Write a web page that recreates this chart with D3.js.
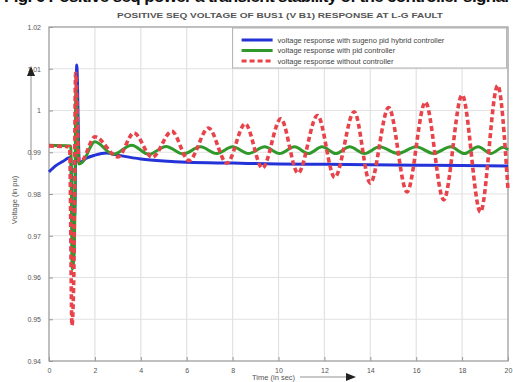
<!DOCTYPE html>
<html>
<head>
<meta charset="utf-8">
<script src="https://cdn.jsdelivr.net/npm/d3@7"></script>
<style>
  body { margin: 0; background: #fff; }
  text { font-family: "Liberation Sans", Arial, sans-serif; }
</style>
</head>
<body>
<div id="chart"></div>
<script>
var svgWidth = 513;
var svgHeight = 382;

var margin = { top: 27, right: 5, bottom: 21, left: 49 };
var width = svgWidth - margin.left - margin.right;
var height = svgHeight - margin.top - margin.bottom;

// values
var xTicks = [0, 2, 4, 6, 8, 10, 12, 14, 16, 18, 20];
var yTicks = [0.94, 0.95, 0.96, 0.97, 0.98, 0.99, 1, 1.01, 1.02];
var yTickLabels = ["0.94", "0.95", "0.96", "0.97", "0.98", "0.99", "1", "1.01", "1.02"];

var blueTime = [0, 0.3, 0.6, 0.95, 1.02, 1.12, 1.21, 1.32, 1.6, 2.0, 2.5, 3.0, 4.0, 5.0, 6.0, 8.0, 10, 12, 14, 16, 18, 20];
var blueVolt = [0.9853, 0.9868, 0.9878, 0.9888, 0.972, 0.975, 1.0109, 0.9874, 0.9885, 0.9893, 0.9898, 0.9893, 0.9884, 0.9879, 0.9876, 0.9874, 0.9872, 0.9871, 0.987, 0.9869, 0.9868, 0.9867];

var greenTime = [0, 0.95, 1.01, 1.1, 1.18, 1.3, 1.45, 2.0, 2.8, 3.6, 4.35, 5.1, 5.85, 6.6, 7.3, 8.0, 8.7, 9.4, 10.05, 10.7, 11.3, 11.9, 12.5, 13.1, 13.75, 14.4, 15.2, 16.0, 16.75, 17.5, 18.1, 18.7, 19.25, 19.8, 20];
var greenVolt = [0.9917, 0.9915, 0.962, 0.966, 1.005, 0.9872, 0.9876, 0.9925, 0.9895, 0.9917, 0.9895, 0.9914, 0.9896, 0.9913, 0.9897, 0.9913, 0.9897, 0.9913, 0.9897, 0.9913, 0.9897, 0.9913, 0.9897, 0.9913, 0.9897, 0.9913, 0.9897, 0.9913, 0.9897, 0.9913, 0.9897, 0.9913, 0.9897, 0.9912, 0.9906];

var redTime = [0, 0.9, 1.0, 1.08, 1.16, 1.3, 1.4, 2.0, 3.0, 3.7, 4.5, 5.35, 6.1, 6.95, 7.75, 8.55, 9.3, 10.1, 10.85, 11.7, 12.45, 13.3, 14.0, 14.8, 15.6, 16.4, 17.2, 18.0, 18.8, 19.55, 20];
var redVolt = [0.9915, 0.9913, 0.9485, 0.96, 1.009, 0.988, 0.9879, 0.9937, 0.9889, 0.9946, 0.9888, 0.995, 0.988, 0.9958, 0.9874, 0.9968, 0.9862, 0.998, 0.985, 0.9988, 0.984, 0.9997, 0.9826, 1.0007, 0.9805, 1.002, 0.9786, 1.0037, 0.9757, 1.006, 0.981];

var legendLabels = [
  "voltage response with sugeno pid hybrid controller",
  "voltage response with pid controller",
  "voltage response without controller"
];

var titleText = "POSITIVE SEQ VOLTAGE OF BUS1 (V B1) RESPONSE AT L-G FAULT";

var svg = d3.select("#chart")
  .append("svg")
  .attr("width", svgWidth)
  .attr("height", svgHeight);

// caption of the page above the figure, mostly cut off by the crop
svg.append("text")
  .attr("x", 4)
  .attr("y", 1.5)
  .attr("font-family", "Liberation Serif, serif")
  .attr("font-weight", "bold")
  .attr("font-size", 17)
  .attr("fill", "#111")
  .attr("textLength", 505)
  .text("Fig. 6 Positive seq power a transient stability of the controller signal");

var chartGroup = svg.append("g")
  .attr("transform", `translate(${margin.left}, ${margin.top})`);

var xScale = d3.scaleLinear().domain([0, 20]).range([0, width]);
var yScale = d3.scaleLinear().domain([0.94, 1.02]).range([height, 0]);

// grid
chartGroup.append("g")
  .selectAll("line")
  .data(xTicks)
  .enter()
  .append("line")
  .attr("x1", d => xScale(d))
  .attr("x2", d => xScale(d))
  .attr("y1", 0)
  .attr("y2", height)
  .attr("stroke", "#e2e2e2")
  .attr("stroke-width", 1.2);

chartGroup.append("g")
  .selectAll("line")
  .data(yTicks)
  .enter()
  .append("line")
  .attr("x1", 0)
  .attr("x2", width)
  .attr("y1", d => yScale(d))
  .attr("y2", d => yScale(d))
  .attr("stroke", "#e2e2e2")
  .attr("stroke-width", 1.2);

// frame
chartGroup.append("rect")
  .attr("width", width)
  .attr("height", height)
  .attr("fill", "none")
  .attr("stroke", "#a0a0a0")
  .attr("stroke-width", 1.2);

var bottomAxis = d3.axisBottom(xScale)
  .tickValues(xTicks)
  .tickSize(-4)
  .tickPadding(7)
  .tickFormat(d3.format("d"));

var leftAxis = d3.axisLeft(yScale)
  .tickValues(yTicks)
  .tickSize(-4)
  .tickPadding(8)
  .tickFormat((d, i) => yTickLabels[i]);

var xAxis = chartGroup.append("g")
  .attr("transform", `translate(0, ${height})`)
  .call(bottomAxis);

var yAxis = chartGroup.append("g")
  .call(leftAxis);

[xAxis, yAxis].forEach(function(ax) {
  ax.select(".domain").remove();
  ax.selectAll("line").attr("stroke", "#999");
  ax.selectAll("text")
    .attr("font-size", 7)
    .attr("fill", "#555");
});

// series
var line = d3.line()
  .x(d => xScale(d[0]))
  .y(d => yScale(d[1]))
  .curve(d3.curveMonotoneX);

var blueData = blueTime.map((t, i) => [t, blueVolt[i]]);
var greenData = greenTime.map((t, i) => [t, greenVolt[i]]);
var redData = redTime.map((t, i) => [t, redVolt[i]]);

var plotGroup = chartGroup.append("g");

plotGroup.append("path")
  .datum(blueData)
  .attr("d", line)
  .attr("fill", "none")
  .attr("stroke", "#2433d8")
  .attr("stroke-width", 3);

plotGroup.append("path")
  .datum(greenData)
  .attr("d", line)
  .attr("fill", "none")
  .attr("stroke", "#2f9a2a")
  .attr("stroke-width", 3);

plotGroup.append("path")
  .datum(redData)
  .attr("d", line)
  .attr("fill", "none")
  .attr("stroke", "#e8434a")
  .attr("stroke-width", 3.6)
  .attr("stroke-dasharray", "5,3");

// legend
var legendGroup = chartGroup.append("g")
  .attr("transform", `translate(${xScale(8)}, 1)`);

legendGroup.append("rect")
  .attr("width", 274)
  .attr("height", 40)
  .attr("fill", "#fff")
  .attr("stroke", "#b0b0b0")
  .attr("stroke-width", 1);

var legendColors = ["#2433d8", "#2f9a2a", "#e8434a"];
var legendDash = [null, null, "5,3"];

legendLabels.forEach(function(label, i) {
  var yPos = 12 + i * 10.5;
  legendGroup.append("line")
    .attr("x1", 9)
    .attr("x2", 40)
    .attr("y1", yPos)
    .attr("y2", yPos)
    .attr("stroke", legendColors[i])
    .attr("stroke-width", 3)
    .attr("stroke-dasharray", legendDash[i]);
  legendGroup.append("text")
    .attr("x", 45)
    .attr("y", yPos + 2.5)
    .attr("font-size", 7.5)
    .attr("fill", "#444")
    .text(label);
});

// title
svg.append("text")
  .attr("x", 280)
  .attr("y", 18)
  .attr("text-anchor", "middle")
  .attr("font-size", 7.5)
  .attr("font-weight", "bold")
  .attr("fill", "#555")
  .attr("textLength", 326)
  .attr("lengthAdjust", "spacingAndGlyphs")
  .text(titleText);

// axis labels with arrows
svg.append("text")
  .attr("transform", "translate(17, 200) rotate(-90)")
  .attr("text-anchor", "middle")
  .attr("font-size", 7.5)
  .attr("fill", "#555")
  .text("Voltage (in pu)");

svg.append("line")
  .attr("x1", 31).attr("x2", 31)
  .attr("y1", 160).attr("y2", 74)
  .attr("stroke", "#777")
  .attr("stroke-width", 0.8);

svg.append("path")
  .attr("d", "M27,76 L31,66 L35,76 Z")
  .attr("fill", "#222");

svg.append("text")
  .attr("x", 252)
  .attr("y", 380)
  .attr("font-size", 7.5)
  .attr("fill", "#555")
  .text("Time (in sec)");

svg.append("line")
  .attr("x1", 300).attr("x2", 350)
  .attr("y1", 377).attr("y2", 377)
  .attr("stroke", "#777")
  .attr("stroke-width", 0.8);

svg.append("path")
  .attr("d", "M346,373 L356,377 L346,381 Z")
  .attr("fill", "#222");
</script>
</body>
</html>
